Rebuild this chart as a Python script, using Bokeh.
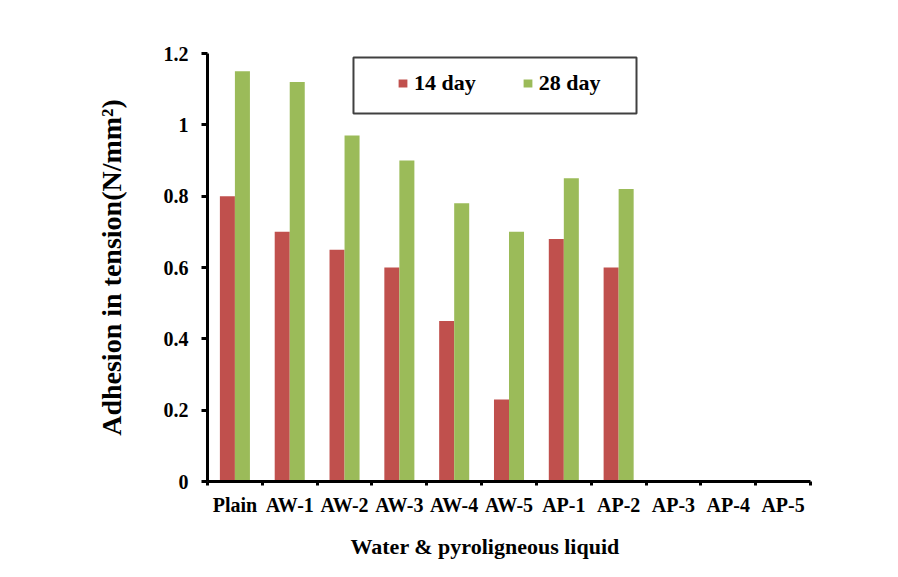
import numpy as np
from bokeh.plotting import figure
from bokeh.models import Range1d, FixedTicker, Legend, LegendItem, BoxAnnotation, ColumnDataSource, Title
from bokeh.embed import file_html
from bokeh.resources import INLINE

categories = ["Plain", "AW-1", "AW-2", "AW-3", "AW-4", "AW-5", "AP-1", "AP-2", "AP-3", "AP-4", "AP-5"]
day14 = [0.80, 0.70, 0.65, 0.60, 0.45, 0.23, 0.68, 0.60, np.nan, np.nan, np.nan]
day28 = [1.15, 1.12, 0.97, 0.90, 0.78, 0.70, 0.85, 0.82, np.nan, np.nan, np.nan]
y_ticks = [0, 0.2, 0.4, 0.6, 0.8, 1.0, 1.2]
y_tick_labels = ["0", "0.2", "0.4", "0.6", "0.8", "1", "1.2"]
series_names = ["14 day", "28 day"]
series_colors = ["#C0504D", "#9BBB59"]
x_title = "Water & pyroligneous liquid"
y_title = "Adhesion in tension(N/mm\u00b2)"

FONT = "Liberation Serif"
n = len(categories)
centers = np.arange(n) + 0.5
bar_w = 0.274

p = figure(width=890, height=573, output_backend="svg", toolbar_location=None,
           x_range=Range1d(0, n), y_range=Range1d(0, 1.2),
           min_border_left=207, min_border_right=80, min_border_top=53, min_border_bottom=92)
p.outline_line_color = None
p.xgrid.grid_line_color = None
p.ygrid.grid_line_color = None
p.background_fill_color = "white"

src = ColumnDataSource(dict(x14=centers - bar_w / 2, x28=centers + bar_w / 2, d14=day14, d28=day28))
r14 = p.vbar(x="x14", top="d14", width=bar_w, source=src, fill_color=series_colors[0], line_color=None)
r28 = p.vbar(x="x28", top="d28", width=bar_w, source=src, fill_color=series_colors[1], line_color=None)

# x axis
xa = p.xaxis[0]
xa.ticker = FixedTicker(ticks=list(centers), minor_ticks=list(np.arange(n + 1)))
xa.major_label_overrides = {float(c): lab for c, lab in zip(centers, categories)}
xa.major_tick_in = 0
xa.major_tick_out = 0
xa.minor_tick_in = 0
xa.minor_tick_out = 4
xa.minor_tick_line_width = 3
xa.minor_tick_line_color = "black"
xa.axis_line_width = 3
xa.axis_line_color = "black"
xa.major_label_text_font = FONT
xa.major_label_text_font_style = "bold"
xa.major_label_text_font_size = "20px"
xa.major_label_text_color = "black"
xa.major_label_standoff = 8

xt = Title(text=x_title, align="left", offset=143, standoff=27,
           text_font=FONT, text_font_style="bold", text_font_size="22px", text_color="black")
p.add_layout(xt, "below")

# y axis
ya = p.yaxis[0]
ya.ticker = FixedTicker(ticks=y_ticks, minor_ticks=[])
ya.major_label_overrides = {float(t): lab for t, lab in zip(y_ticks, y_tick_labels)}
ya.major_tick_in = 0
ya.major_tick_out = 6
ya.major_tick_line_width = 3
ya.major_tick_line_color = "black"
ya.axis_line_width = 3
ya.axis_line_color = "black"
ya.major_label_text_font = FONT
ya.major_label_text_font_style = "bold"
ya.major_label_text_font_size = "20px"
ya.major_label_text_color = "black"
ya.major_label_standoff = 13
ya.axis_label = y_title
ya.axis_label_text_font = FONT
ya.axis_label_text_font_style = "bold"
ya.axis_label_text_font_size = "28px"
ya.axis_label_text_color = "black"
ya.axis_label_standoff = 34

# legend frame
box = BoxAnnotation(left=2.663, right=7.826, bottom=1.032, top=1.189,
                    fill_color="white", fill_alpha=1.0,
                    line_color="#404040", line_width=2, line_alpha=1.0)
p.add_layout(box)

legend = Legend(items=[LegendItem(label=series_names[0], renderers=[r14]),
                       LegendItem(label=series_names[1], renderers=[r28])],
                orientation="horizontal", location=(190, 385),
                padding=0, margin=0, spacing=46,
                glyph_width=11, glyph_height=10, label_standoff=6,
                label_text_font=FONT, label_text_font_style="bold",
                label_text_font_size="22px", label_text_color="black",
                border_line_color=None, background_fill_alpha=0)
p.add_layout(legend, "center")

open("out.html", "w").write(file_html(p, INLINE))
